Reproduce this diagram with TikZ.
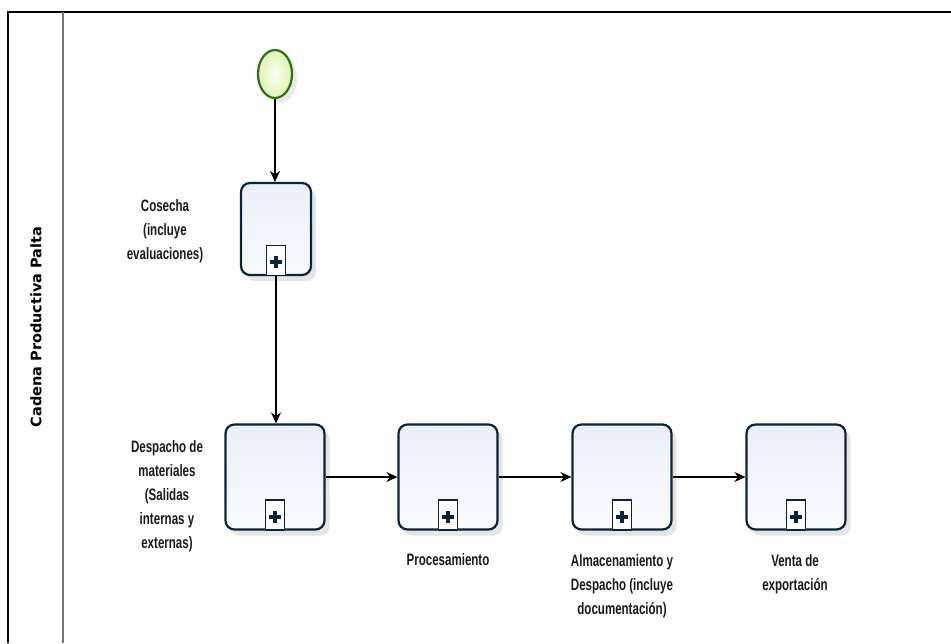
\documentclass[tikz,border=0pt]{standalone}
\usepackage{fontspec}
\setmainfont{Liberation Sans}
\newfontfamily\lblfont[FakeStretch=0.70]{Liberation Sans Bold}
\newfontfamily\titlefont{DejaVu Sans}
\usetikzlibrary{arrows.meta,shapes.geometric,shadows}
\definecolor{navy}{HTML}{0B2438}
\definecolor{boxtop}{HTML}{FAFBFE}
\definecolor{boxbot}{HTML}{ECEEFA}
\definecolor{evgreen}{HTML}{2E7012}
\definecolor{evin}{HTML}{FBFFF0}
\definecolor{evout}{HTML}{E0F3B6}
\definecolor{txt}{HTML}{1A1A1A}
\tikzset{
  task/.style={draw=navy, line width=2.2pt, rounded corners=9pt,
    top color=boxbot, bottom color=boxtop, inner sep=0pt,
    drop shadow={shadow xshift=5pt, shadow yshift=-6pt, fill=black, opacity=0.10}},
  bigtask/.style={task, minimum width=99pt, minimum height=105pt},
  smalltask/.style={task, minimum width=70pt, minimum height=92pt},
  marker/.style={draw=navy, line width=1.6pt, fill=white, minimum width=19pt,
    minimum height=30pt, inner sep=0pt, anchor=south,
    path picture={
      \fill[navy] ([xshift=-6pt,yshift=-3.8pt]path picture bounding box.center)
         rectangle ([xshift=6pt,yshift=0.2pt]path picture bounding box.center);
      \fill[navy] ([xshift=-2pt,yshift=-7.8pt]path picture bounding box.center)
         rectangle ([xshift=2pt,yshift=4.2pt]path picture bounding box.center);
    }},
  startev/.style={ellipse, draw=evgreen, line width=2.2pt, inner color=evin,
    outer color=evout, minimum width=34pt, minimum height=48pt, inner sep=0pt,
    drop shadow={shadow xshift=5pt, shadow yshift=-5pt, fill=black, opacity=0.08}},
  flow/.style={-{Stealth[length=11pt,width=10pt]}, line width=1.1pt, black},
  lbl/.style={align=center, text=txt, inner sep=0pt,
    font=\lblfont\fontsize{16.5}{24}\selectfont},
}
\begin{document}
\begin{tikzpicture}[x=1pt,y=-1pt]
\useasboundingbox (0,0) rectangle (951,643);
% frame and lane
\draw[line width=2pt, black] (8,643) -- (8,12) -- (951,12);
\draw[line width=2pt, black!55] (63,12) -- (63,643);
\node[rotate=90, text=black, inner sep=0pt,
      font=\titlefont\bfseries\fontsize{14.5}{16}\selectfont] (lane) at (36,327)
      {Cadena Productiva Palta};
% start event
\node[startev] (start) at (275,74) {};
% tasks
\node[smalltask] (cos) at (276,229) {};
\node[bigtask] (des) at (275,477) {};
\node[bigtask] (pro) at (448,477) {};
\node[bigtask] (alm) at (622,477) {};
\node[bigtask] (ven) at (796,477) {};
% collapsed subprocess markers
\node[marker] (mcos) at (cos.south) {};
\node[marker] (mdes) at (des.south) {};
\node[marker] (mpro) at (pro.south) {};
\node[marker] (malm) at (alm.south) {};
\node[marker] (mven) at (ven.south) {};
% labels
\node[lbl] (lcos) at (165,231) {Cosecha\\(incluye\\evaluaciones)};
\node[lbl] (ldes) at (167,496) {Despacho de\\materiales\\(Salidas\\internas y\\externas)};
\node[lbl] (lpro) at (448,560) {Procesamiento};
\node[lbl] (lalm) at (622,586) {Almacenamiento y\\Despacho (incluye\\documentación)};
\node[lbl] (lven) at (795,574) {Venta de\\exportación};
% flows
\draw[flow] (start.south) -- (cos.north -| start.south);
\draw[flow] (mcos.south) -- (des.north -| mcos.south);
\draw[flow] (des.east) -- (pro.west);
\draw[flow] (pro.east) -- (alm.west);
\draw[flow] (alm.east) -- (ven.west);
\end{tikzpicture}
\end{document}
